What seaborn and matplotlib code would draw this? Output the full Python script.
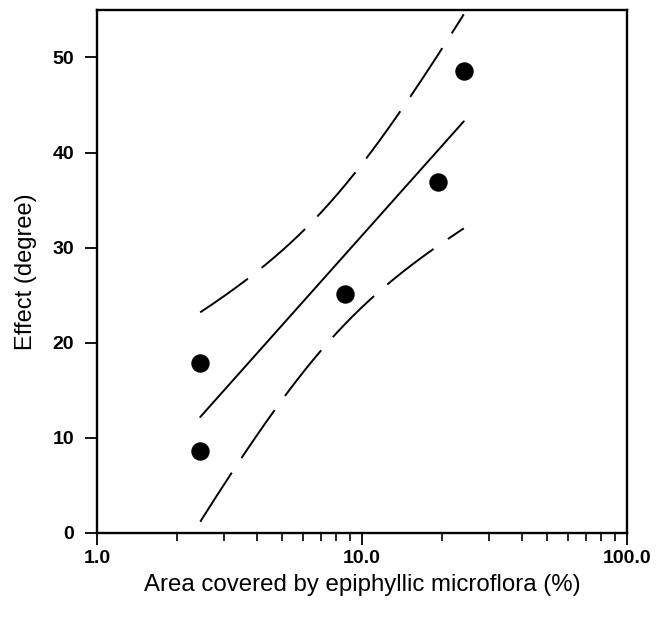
import numpy as np
import pandas as pd
import seaborn as sns
import matplotlib
matplotlib.use('Agg')
import matplotlib.pyplot as plt
from matplotlib.ticker import FixedLocator, FixedFormatter, LogLocator, NullFormatter

# data
area = [2.45, 2.45, 8.6, 19.4, 24.2]      # % leaf area covered
effect = [17.9, 8.65, 25.1, 36.9, 48.6]   # degree
xticks = [1, 10, 100]
xticklabels = ['1.0', '10.0', '100.0']
yticks = [0, 10, 20, 30, 40, 50]
t_crit = 2.776  # 95 % two-sided, df = n - 1

sns.set_style('ticks')
plt.rcParams['font.family'] = ['Liberation Sans', 'DejaVu Sans']
plt.rcParams['text.color'] = 'black'
plt.rcParams['axes.labelcolor'] = 'black'
plt.rcParams['xtick.color'] = 'black'
plt.rcParams['ytick.color'] = 'black'

df = pd.DataFrame({'area': area, 'effect': effect})

# linear fit of effect on log10(area) with confidence band
lx = np.log10(df['area'].values)
y = df['effect'].values
n = len(y)
slope, icpt = np.polyfit(lx, y, 1)
s = np.sqrt(np.sum((y - (icpt + slope * lx)) ** 2) / (n - 2))
sxx = np.sum((lx - lx.mean()) ** 2)
grid = np.linspace(lx.min(), lx.max(), 200)
fit = icpt + slope * grid
half = t_crit * s * np.sqrt(1 / n + (grid - lx.mean()) ** 2 / sxx)

fig = plt.figure(figsize=(6.65, 6.21), dpi=100)
ax = fig.add_axes([0.146, 0.142, 0.797, 0.842])

sns.regplot(x='area', y='effect', data=df, logx=True, ci=None, ax=ax,
            scatter_kws={'s': 150, 'color': 'black', 'edgecolor': 'black', 'alpha': 1, 'zorder': 3},
            line_kws={'color': 'black', 'lw': 1.4})
for band in (fit + half, fit - half):
    sns.lineplot(x=10 ** grid, y=band, ax=ax, color='black', lw=1.4,
                 linestyle=(0, (30, 9)), sort=False, errorbar=None)

ax.set_xscale('log')
ax.set_xlim(1, 100)
ax.set_ylim(0, 55)
ax.xaxis.set_major_locator(FixedLocator(xticks))
ax.xaxis.set_major_formatter(FixedFormatter(xticklabels))
ax.xaxis.set_minor_locator(LogLocator(base=10, subs=np.arange(2, 10)))
ax.xaxis.set_minor_formatter(NullFormatter())
ax.set_yticks(yticks)

for sp in ax.spines.values():
    sp.set_linewidth(1.7)
    sp.set_color('black')
ax.tick_params(axis='both', which='major', length=8.5, width=1.3, labelsize=14)
ax.tick_params(axis='x', which='major', pad=4)
ax.tick_params(axis='y', which='major', pad=8)
ax.tick_params(axis='x', which='minor', length=5.5, width=1.2)
for lab in ax.get_xticklabels() + ax.get_yticklabels():
    lab.set_fontweight('bold')

ax.set_xlabel('Area covered by epiphyllic microflora (%)', fontsize=17.3, labelpad=5)
ax.set_ylabel('Effect (degree)', fontsize=17, labelpad=11)

fig.savefig('out.png', dpi=100)
